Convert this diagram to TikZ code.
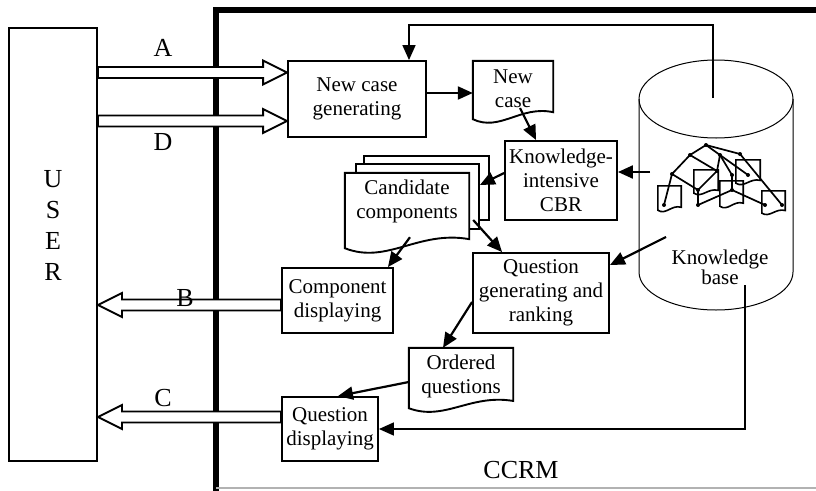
\documentclass[tikz,border=0pt]{standalone}
\usepackage{fontspec}
\setmainfont{Liberation Serif}
\usetikzlibrary{arrows.meta,calc}
\newcommand\hollowarrow[3]{%
  \path[hollow] let \p1=(#1), \p2=(#2), \n1={ifthenelse(\x2>\x1,1,-1)} in
    (\x1,{-(#3-5.5)*1pt}) -- ({\x2-\n1*24pt},{-(#3-5.5)*1pt}) -- ({\x2-\n1*24pt},{-(#3-12)*1pt})
    -- (\x2,{-(#3)*1pt}) -- ({\x2-\n1*24pt},{-(#3+12)*1pt}) -- ({\x2-\n1*24pt},{-(#3+5.5)*1pt})
    -- (\x1,{-(#3+5.5)*1pt}) -- cycle;}
\newcommand\docpath[2][docline]{%
  \path[#1] let \p1=(#2.north west), \p2=(#2.south east), \n1={\x2-\x1}, \n2={\y1-\y2} in
   (\x1,\y1) -- (\x2,\y1) -- (\x2,{\y2+0.12*\n2})
   .. controls ({\x1+0.59*\n1},{\y2+0.24*\n2}) and ({\x1+0.34*\n1},{\y2-0.22*\n2}) .. (\x1,\y2) -- cycle;}
\begin{document}
\begin{tikzpicture}[x=1pt,y=-1pt,
  box/.style={draw,line width=1.9pt,rectangle,align=center,inner sep=0pt,font=\fontsize{21}{24}\selectfont},
  hold/.style={rectangle,inner sep=0pt},
  txt/.style={align=center,inner sep=0pt,font=\fontsize{21}{24}\selectfont},
  lbl/.style={inner sep=0pt,font=\fontsize{26}{31}\selectfont},
  arr/.style={line width=2.2pt,-{Triangle[length=15pt,width=13pt]}},
  hollow/.style={draw,line width=1.9pt,fill=white,line join=miter},
  docline/.style={draw,line width=1.9pt,fill=white},
  minidoc/.style={draw,line width=1.6pt},
  thinline/.style={line width=1pt},
  gl/.style={line width=1.7pt},
  gdot/.style={circle,fill,inner sep=0pt,minimum size=4pt}
]
\useasboundingbox (0,0) rectangle (816,490);
\fill[white] (0,0) rectangle (816,490);

% CCRM frame
\draw[line width=6pt,line join=miter] (216,492) -- (216,10) -- (819,10);
\draw[gray!60,line width=1.2pt] (216,488) -- (816,488);
\node[lbl] (ccrm) at (521,470) {CCRM};

% USER
\node[box,minimum width=88pt,minimum height=433pt] (user) at (53,244.5) {};
\node[lbl,align=center] (userlbl) at (53,225) {U\\S\\E\\R};

% process boxes
\node[box,minimum width=138pt,minimum height=76pt] (ncg) at (357,99) {New case\\generating};
\node[box,minimum width=112pt,minimum height=79pt] (kicbr) at (561,180.5) {Knowledge-\\intensive\\CBR};
\node[box,minimum width=111pt,minimum height=65pt] (comp) at (337.5,300.5) {Component\\displaying};
\node[box,minimum width=136pt,minimum height=80pt] (qgr) at (541,293) {Question\\generating and\\ranking};
\node[box,minimum width=96pt,minimum height=64pt] (qdisp) at (330,429) {Question\\displaying};

% New case document
\node[hold,minimum width=80pt,minimum height=58pt] (newcase) at (513,90) {};
\docpath{newcase}
\node[txt] (newcaseT) at (513,89) {New\\case};

% Candidate components (multi-document)
\node[box,fill=white,minimum width=125pt,minimum height=64pt] (cand3) at (426.5,188) {};
\node[box,fill=white,minimum width=123pt,minimum height=65pt] (cand2) at (417.5,196.5) {};
\node[hold,minimum width=124pt,minimum height=75pt] (cand) at (407,210.5) {};
\docpath{cand}
\node[txt] (candT) at (407,201) {Candidate\\components};

% Ordered questions document
\node[hold,minimum width=104pt,minimum height=60pt] (ordq) at (461,378) {};
\docpath{ordq}
\node[txt] (ordqT) at (461,376) {Ordered\\questions};

% Knowledge base cylinder
\node[hold,minimum width=154pt,minimum height=250pt] (kb) at (716,185) {};
\draw[thinline] (639,99) -- (639,272) arc[start angle=180,end angle=0,x radius=77,y radius=38] -- (793,99);
\draw[thinline] (716,99) ellipse [x radius=77,y radius=39];
\node[txt,font=\fontsize{21}{18}\selectfont] (kbT) at (720,267) {Knowledge\\base};
\coordinate (kbA) at (650,172);
\coordinate (kbB) at (666,237);
\coordinate (kbC) at (745,285);
\coordinate (kbD) at (713,98);

% knowledge graph inside the cylinder
\node[hold,minimum width=23pt,minimum height=24pt] (kd1) at (669.5,198) {};
\node[hold,minimum width=24pt,minimum height=23pt] (kd2) at (706,181.5) {};
\node[hold,minimum width=23pt,minimum height=25pt] (kd3) at (731.5,193.5) {};
\node[hold,minimum width=24pt,minimum height=23pt] (kd4) at (748,171.5) {};
\node[hold,minimum width=23pt,minimum height=22pt] (kd5) at (773.5,202) {};
\foreach \d in {kd1,kd2,kd3,kd4,kd5} {\docpath[minidoc]{\d}}
\node[gdot] (ga) at (706,145) {};
\node[gdot] (gb) at (690,155) {};
\node[gdot] (gc) at (720,155) {};
\node[gdot] (gd) at (740,154) {};
\node[gdot] (ge) at (672,174) {};
\node[gdot] (gf) at (717,171) {};
\node[gdot] (gg) at (732,175) {};
\node[gdot] (gh) at (748,175) {};
\node[gdot] (gi) at (698,190) {};
\node[gdot] (gj) at (732,190) {};
\node[gdot] (gk) at (664,205) {};
\node[gdot] (gl) at (698,205) {};
\node[gdot] (gm) at (765,205) {};
\node[gdot] (gn) at (782,205) {};
\foreach \u/\v in {ga/gb,ga/gc,ga/gd,gb/ge,gb/gf,gc/gf,gc/gg,gc/gh,gd/gn,ge/gk,ge/gi,gf/gi,gi/gl,gg/gj,gj/gm,gl/gj}
  {\draw[gl] (\u.center) -- (\v.center);}

% hollow interface arrows
\hollowarrow{user.east}{ncg.west}{72.5}
\hollowarrow{user.east}{ncg.west}{121}
\hollowarrow{comp.west}{user.east}{305}
\hollowarrow{qdisp.west}{user.east}{417}
\node[lbl] (la) at (163,48) {A};
\node[lbl] (ld) at (163,142) {D};
\node[lbl] (lb) at (185,298) {B};
\node[lbl] (lc) at (163,398) {C};

% connectors
\draw[arr] ([yshift=6pt]ncg.east) -- ([yshift=6pt]ncg.east -| newcase.west);
\draw[arr] ($(newcase.center)+(7,18)$) -- ($(kicbr.north west)+(32,0)$);
\draw[arr] (kbA) -- (kbA -| kicbr.east);
\draw[arr] ([yshift=7.5pt]kicbr.west) -- ([yshift=11.5pt]cand2.east);
\draw[arr] ($(cand.south)+(3,-11)$) -- ([xshift=-6pt]comp.north east);
\draw[arr] ($(cand.east)+(4,9.5)$) -- ([xshift=30pt]qgr.north west);
\draw[arr] (kbB) -- ([yshift=-13pt]qgr.north east);
\draw[arr] ([yshift=-9pt]qgr.west) -- ([xshift=-18pt]ordq.north);
\draw[arr] ([yshift=-4pt]ordq.west) -- ([xshift=8pt]qdisp.north);
\draw[arr,line width=1.7pt] (kbC) |- (qdisp.east);
\draw[arr,line width=1.7pt] (kbD) -- (kbD |- 0,25) -| ([xshift=52pt]ncg.north);
\end{tikzpicture}
\end{document}
